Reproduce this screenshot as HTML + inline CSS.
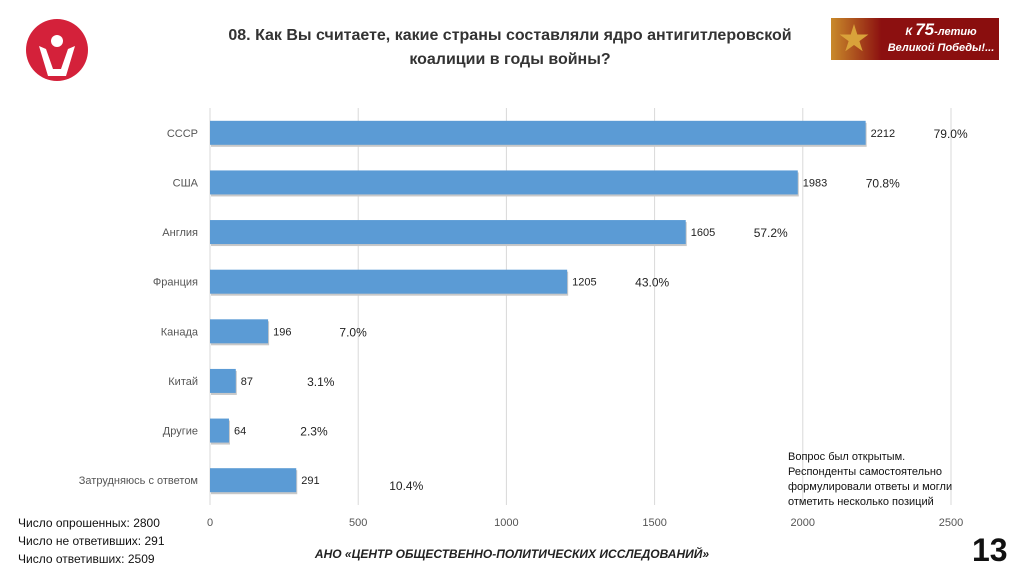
<!DOCTYPE html>
<html><head><meta charset="utf-8">
<style>
body{margin:0;width:1024px;height:576px;background:#fff;font-family:"Liberation Sans","Noto Sans CJK SC",sans-serif;overflow:hidden;position:relative}
.t{position:absolute}
</style></head><body>
<svg class="t" style="left:26px;top:19px" width="62" height="62" viewBox="0 0 62 62">
<circle cx="31" cy="31" r="31" fill="#d4213a"/>
<circle cx="31" cy="22" r="6" fill="#fff"/>
<path d="M13 27 L20 30 L27 50 L35 50 L42 30 L49 27 L40 57 L22 57 Z" fill="#fff"/>
<path d="M24 38 L38 38 L33 50 L29 50 Z" fill="#d4213a"/>
</svg>
<div class="t" style="left:200px;top:24px;width:620px;text-align:center;font-size:16px;font-weight:bold;color:#333;line-height:24px">08. Как Вы считаете, какие страны составляли ядро антигитлеровской коалиции в годы войны?</div>
<div class="t" style="left:831px;top:18px;width:168px;height:42px;background:linear-gradient(90deg,#c98a2a 0,#8c1010 30%,#8a0e0e 100%)">
<div class="t" style="left:8px;top:6px;width:30px;height:30px;background:#d9a23a;clip-path:polygon(50% 0,61% 35%,98% 35%,68% 57%,79% 91%,50% 70%,21% 91%,32% 57%,2% 35%,39% 35%)"></div>
<div class="t" style="left:55px;top:4px;width:110px;text-align:center;color:#fff;font-style:italic;font-weight:bold;font-size:11px;line-height:16px">К <span style="font-size:17px">75</span>-летию<br>Великой Победы!...</div>
</div>
<svg id="chart" class="t" style="left:0;top:0" width="1024" height="576"></svg>
<div class="t" style="left:788px;top:450px;font-size:11px;line-height:15px;color:#111">Вопрос был открытым.<br>Респонденты самостоятельно<br>формулировали ответы и могли<br>отметить несколько позиций</div>
<div class="t" style="left:18px;top:514px;font-size:12px;line-height:18px;color:#111">Число опрошенных: 2800<br>Число не ответивших: 291<br>Число ответивших: 2509</div>
<div class="t" style="left:262px;top:547px;width:500px;text-align:center;white-space:nowrap;font-size:12px;font-weight:bold;font-style:italic;color:#222">АНО «ЦЕНТР ОБЩЕСТВЕННО-ПОЛИТИЧЕСКИХ ИССЛЕДОВАНИЙ»</div>
<div class="t" style="left:972px;top:532px;font-size:32px;font-weight:bold;color:#111">13</div>
<script>
const categories=["СССР","США","Англия","Франция","Канада","Китай","Другие","Затрудняюсь с ответом"];
const values=[2212,1983,1605,1205,196,87,64,291];
const percents=["79.0%","70.8%","57.2%","43.0%","7.0%","3.1%","2.3%","10.4%"];
const ticks=[0,500,1000,1500,2000,2500];
const svg=document.getElementById('chart');const NS='http://www.w3.org/2000/svg';
const x0=210,x1=951,yTop=108,yBot=505;
const xs=v=>x0+(v/2500)*(x1-x0);
const band=(yBot-yTop)/categories.length;
const yc=i=>yTop+band*(i+0.5);
function mk(tag,a){const e=document.createElementNS(NS,tag);for(const k in a)e.setAttribute(k,a[k]);svg.appendChild(e);return e;}
ticks.forEach(t=>{
 const g=mk('line',{x1:xs(t),x2:xs(t),y1:yTop,y2:yBot,stroke:'#d9d9d9','stroke-width':1});
 
 
 const l=mk('text',{x:xs(t),y:526,'text-anchor':'middle','font-size':11,fill:'#555'});l.textContent=t;
 
 
});
categories.forEach((c,i)=>{
 const y=yc(i);
 const l=mk('text',{x:198,y:y+4,'text-anchor':'end','font-size':11,fill:'#555'});l.textContent=c;
 
 
 const s=mk('rect',{x:x0+1,y:y-10,width:xs(values[i])-x0,height:24,fill:'#c8c8c8'});
 
 
 const r=mk('rect',{x:x0,y:y-12,width:xs(values[i])-x0,height:24,fill:'#5b9bd5'});
 
 
 const v=mk('text',{x:xs(values[i])+5,y:y+4,'font-size':11,fill:'#222'});v.textContent=values[i];
 
 
 const p=mk('text',{x:xs(values[i])+(i==7?110:85),y:y+(i==7?10:5),'text-anchor':'middle','font-size':12,fill:'#222'});p.textContent=percents[i];
 
 
});
</script>
</body></html>
